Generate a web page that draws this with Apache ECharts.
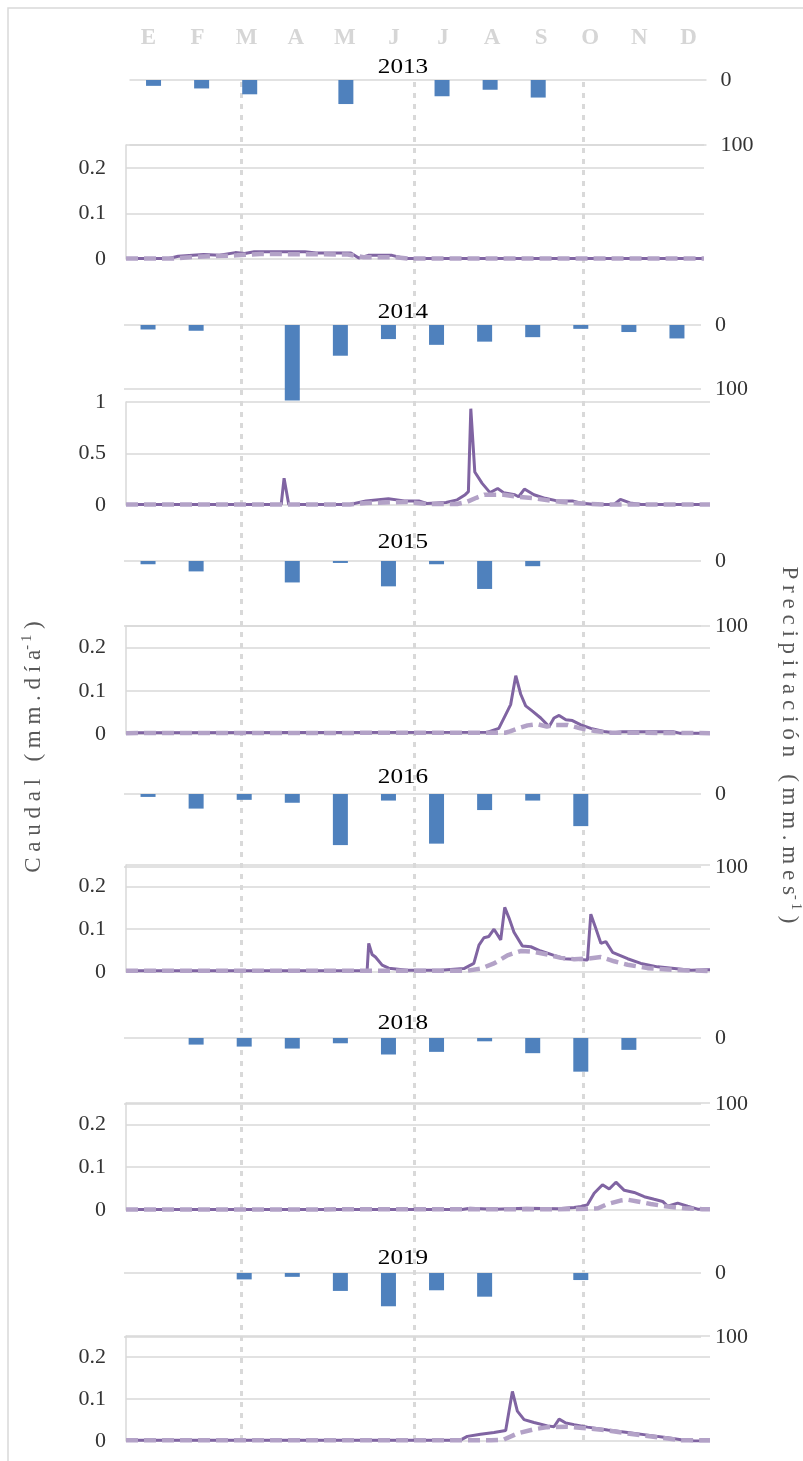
<!DOCTYPE html>
<html>
<head>
<meta charset="utf-8">
<script src="https://cdn.jsdelivr.net/npm/echarts@6/dist/echarts.min.js"></script>
<style>
  html, body { margin: 0; padding: 0; background: #fff; }
  #chart { width: 803px; height: 1461px; }
</style>
</head>
<body>
<div id="chart"></div>
<script>
// Month initials (Spanish) and the years shown, one panel per year
const monthLetters = ['E', 'F', 'M', 'A', 'M', 'J', 'J', 'A', 'S', 'O', 'N', 'D'];
const years = ['2013', '2014', '2015', '2016', '2018', '2019'];

// Monthly precipitation (mm/mes), January..December
const rain2013 = [9, 13, 22, null, 37, null, 25, 15, 27, null, null, null];
const rain2014 = [7, 9, null, 118, 48, 22, 31, 26, 19, 6, 11, 21];
const rain2015 = [5, 16, null, 33, 3, 39, 5, 43, 8, null, null, null];
const rain2016 = [4, 20, 8, 12, 70, 9, 68, 22, 9, 44, null, null];
const rain2018 = [null, 10, 13, 16, 8, 25, 21, 5, 23, 51, 18, null];
const rain2019 = [null, null, 10, 6, 28, 52, 27, 37, null, 11, null, null];

// Daily discharge (mm/día) as [day of year, value]: observed (solid) and simulated (dashed)
const obs2013 = [[0,0.001],[27,0.001],[33,0.006],[49,0.01],[59,0.008],[69,0.014],[75,0.012],[81,0.016],[113,0.016],[120,0.013],[142,0.013],[147,0.002],[153,0.008],[168,0.008],[176,0.001],[365,0.001]];
const sim2013 = [[0,0.001],[30,0.001],[45,0.005],[70,0.008],[85,0.011],[140,0.01],[150,0.004],[170,0.004],[178,0.001],[365,0.001]];

const obs2014 = [[0,0.005],[97,0.005],[98.8,0.26],[101.7,0.005],[140,0.005],[150,0.04],[164,0.06],[174,0.04],[183,0.04],[188,0.015],[200,0.025],[207,0.05],[212,0.1],[214,0.13],[215.5,0.935],[218,0.32],[222.6,0.21],[227.5,0.12],[232.3,0.16],[236,0.12],[243,0.1],[245.4,0.08],[249,0.155],[255,0.1],[262,0.065],[269.4,0.04],[279,0.04],[284,0.02],[293,0.005],[305,0.005],[309,0.055],[315,0.02],[322,0.005],[365,0.005]];
const sim2014 = [[0,0.005],[140,0.005],[150,0.02],[175,0.03],[188,0.01],[207,0.01],[213,0.03],[219,0.07],[224,0.1],[236,0.1],[245,0.08],[255,0.065],[266,0.04],[279,0.02],[290,0.01],[300,0.005],[365,0.005]];

const obs2015 = [[0,0.003],[226,0.004],[233,0.013],[237.3,0.045],[240.4,0.068],[243.6,0.135],[246.7,0.092],[249.8,0.065],[254,0.053],[259.2,0.037],[264.4,0.017],[267.5,0.037],[270.7,0.043],[274.9,0.033],[279,0.031],[284.3,0.021],[290.5,0.013],[298.8,0.006],[305,0.003],[310,0.005],[342,0.005],[346,0.002],[365,0.002]];
const sim2015 = [[0,0.002],[237,0.003],[240,0.006],[245,0.013],[251,0.02],[257,0.023],[263,0.017],[268,0.021],[276,0.021],[284,0.013],[293,0.007],[301,0.003],[365,0.002]];

const obs2016 = [[0,0.003],[150.7,0.003],[151.7,0.067],[153.8,0.041],[155.9,0.035],[160.1,0.016],[164.2,0.009],[175.7,0.004],[196.6,0.004],[211.2,0.008],[217.4,0.02],[220.6,0.063],[223.7,0.08],[226.8,0.083],[230,0.1],[234.2,0.075],[236.7,0.151],[239.4,0.126],[242.5,0.093],[247.7,0.061],[253,0.059],[259.2,0.049],[267.5,0.039],[273.8,0.031],[288.4,0.028],[290.5,0.135],[293.6,0.102],[296.8,0.067],[299.9,0.071],[304.1,0.046],[313.5,0.031],[321.8,0.02],[332.3,0.012],[342.7,0.008],[353.1,0.004],[363.6,0.005],[365,0.005]];
const sim2016 = [[0,0.003],[213.3,0.003],[221.7,0.008],[230,0.02],[238.4,0.039],[246.7,0.049],[255.1,0.047],[263.4,0.041],[271.8,0.033],[280.1,0.03],[288.4,0.031],[296.8,0.035],[305.1,0.025],[313.5,0.017],[326,0.009],[342.7,0.005],[365,0.002]];

const obs2018 = [[0,0.001],[210,0.001],[215,0.004],[230,0.002],[250,0.004],[270,0.003],[280,0.006],[284.3,0.008],[288.4,0.012],[292.6,0.039],[297.8,0.059],[302,0.049],[306.2,0.065],[311.4,0.046],[317.6,0.041],[323.9,0.031],[330.1,0.025],[335.4,0.02],[338.5,0.009],[344.8,0.016],[351,0.009],[357.3,0.002],[365,0.002]];
const sim2018 = [[0,0.001],[270,0.002],[288,0.003],[295,0.004],[301,0.014],[309,0.022],[313.5,0.024],[319.7,0.02],[328,0.014],[338.5,0.008],[349,0.004],[360,0.002],[365,0.002]];

const obs2019 = [[0,0.002],[209,0.002],[213.3,0.011],[221.6,0.016],[230,0.02],[237.3,0.025],[241.5,0.118],[244.6,0.071],[248.8,0.051],[255,0.044],[263.4,0.036],[267.5,0.034],[270.7,0.052],[274.9,0.043],[280.1,0.039],[288.4,0.033],[301,0.026],[313.5,0.02],[326,0.014],[338.5,0.008],[346.9,0.003],[355,0],[365,0]];
const sim2019 = [[0,0.002],[228,0.002],[236,0.003],[244.6,0.018],[255,0.028],[263.4,0.033],[276,0.034],[288.4,0.03],[301,0.025],[313.5,0.018],[326,0.012],[338.5,0.006],[347,0.002],[365,0.002]];

// Discharge axis range per panel
const flowMax = [0.25, 1, 0.25, 0.25, 0.25, 0.25];
const flowStep = [0.1, 0.5, 0.1, 0.1, 0.1, 0.1];
const rainAxisTicks = [0, 100];

// Days of year where the light dashed guides cross all panels
const guideDays = [72, 180, 286];

const rainByYear = [rain2013, rain2014, rain2015, rain2016, rain2018, rain2019];
const obsByYear = [obs2013, obs2014, obs2015, obs2016, obs2018, obs2019];
const simByYear = [sim2013, sim2014, sim2015, sim2016, sim2018, sim2019];

// Page layout of each panel (pixels)
const W = 803, H = 1461;
const layout = [
  { titleY: 67,   barTop: 80,   barH: 65, barLeft: 129.5, barRight: 96.5, lineTop: 145,  lineBottom: 259,  lineRight: 99 },
  { titleY: 312,  barTop: 325,  barH: 64, barLeft: 124,   barRight: 102,  lineTop: 402,  lineBottom: 505,  lineRight: 93 },
  { titleY: 542,  barTop: 561,  barH: 65, barLeft: 124,   barRight: 102,  lineTop: 626,  lineBottom: 734,  lineRight: 93 },
  { titleY: 777,  barTop: 794,  barH: 73, barLeft: 124,   barRight: 102,  lineTop: 865,  lineBottom: 972,  lineRight: 93 },
  { titleY: 1023, barTop: 1038, barH: 66, barLeft: 124,   barRight: 102,  lineTop: 1103, lineBottom: 1210, lineRight: 93 },
  { titleY: 1258, barTop: 1273, barH: 64, barLeft: 124,   barRight: 102,  lineTop: 1336, lineBottom: 1441, lineRight: 93 }
];

const FONT = '"Liberation Serif", "Times New Roman", serif';
const GRID_COLOR = '#d9d9d9';
const LABEL_COLOR = '#333333';
const TITLE_COLOR = '#595959';

const grid = [
  { left: 124, width: 589, top: 52, height: 1 },           // month initials
  { left: 126, right: 93, top: 80, bottom: H - 1440 }       // full-height guides
];
const xAxis = [
  { gridIndex: 0, type: 'category', position: 'top', data: monthLetters,
    axisLine: { show: false }, axisTick: { show: false }, splitLine: { show: false },
    axisLabel: { margin: 2, fontFamily: FONT, fontSize: 23, fontWeight: 'bold', color: '#d6d6d6' } },
  { gridIndex: 1, type: 'value', min: 0, max: 365, show: false }
];
const yAxis = [
  { gridIndex: 0, type: 'value', show: false },
  { gridIndex: 1, type: 'value', min: 0, max: 1, show: false }
];
const series = [
  { type: 'line', xAxisIndex: 1, yAxisIndex: 1, data: [], silent: true, z: 1,
    markLine: {
      silent: true, z: 1, symbol: ['none', 'none'], label: { show: false },
      lineStyle: { color: GRID_COLOR, width: 3, type: [5, 6] },
      data: guideDays.map(d => ({ xAxis: d }))
    } }
];

const axisTitleRich = {
  t: { fontFamily: FONT, fontSize: 23, lineHeight: 28, fill: TITLE_COLOR },
  s: { fontFamily: FONT, fontSize: 14, lineHeight: 28, verticalAlign: 'top', fill: TITLE_COLOR }
};
const graphic = [
  { type: 'rect', shape: { x: 8, y: 8, width: 820, height: 1480 }, z: -10,
    style: { fill: 'none', stroke: GRID_COLOR, lineWidth: 1.5 } },
  { type: 'text', x: 34, y: 747, rotation: Math.PI / 2,
    style: { text: '{t|C a u d a l   ( m m . d í a}{s|- 1}{t| )}',
      align: 'center', verticalAlign: 'middle', rich: axisTitleRich } },
  { type: 'text', x: 789, y: 745, rotation: -Math.PI / 2,
    style: { text: '{t|P r e c i p i t a c i ó n   ( m m . m e s}{s|- 1}{t| )}',
      align: 'center', verticalAlign: 'middle', rich: axisTitleRich } }
];

years.forEach((year, i) => {
  const L = layout[i];
  const gBar = grid.length, gLine = grid.length + 1;
  grid.push({ left: L.barLeft, right: L.barRight, top: L.barTop, height: L.barH });
  grid.push({ left: 126, right: L.lineRight, top: L.lineTop, height: L.lineBottom - L.lineTop });

  const xb = xAxis.length;
  xAxis.push({ gridIndex: gBar, type: 'category', data: monthLetters, show: false });
  xAxis.push({ gridIndex: gLine, type: 'value', min: 0, max: 365,
    axisLine: { show: false }, axisTick: { show: false }, axisLabel: { show: false }, splitLine: { show: false } });

  const yb = yAxis.length;
  yAxis.push({ gridIndex: gBar, type: 'value', inverse: true, position: 'right',
    min: rainAxisTicks[0], max: rainAxisTicks[1], interval: rainAxisTicks[1] - rainAxisTicks[0],
    axisLine: { show: false }, axisTick: { show: false },
    axisLabel: { margin: 14, fontFamily: FONT, fontSize: 22, color: LABEL_COLOR, padding: [6, 0, 0, 0] },
    splitLine: { lineStyle: { color: GRID_COLOR, width: 1.5 } } });
  yAxis.push({ gridIndex: gLine, type: 'value', min: 0, max: flowMax[i], interval: flowStep[i],
    axisLine: { show: true, lineStyle: { color: GRID_COLOR, width: 1.5 } },
    axisTick: { show: false },
    axisLabel: { margin: 20, fontFamily: FONT, fontSize: 22, color: LABEL_COLOR,
      showMaxLabel: flowMax[i] === 1, formatter: v => String(+v.toFixed(2)) },
    splitLine: { lineStyle: { color: GRID_COLOR, width: 1.5 } } });

  series.push({ type: 'bar', name: 'P ' + year, xAxisIndex: xb, yAxisIndex: yb,
    data: rainByYear[i], barWidth: 15, clip: false, silent: true, z: 3,
    itemStyle: { color: '#4f81bd' } });
  series.push({ type: 'line', name: 'Qobs ' + year, xAxisIndex: xb + 1, yAxisIndex: yb + 1,
    data: obsByYear[i], symbol: 'none', silent: true, z: 4,
    lineStyle: { color: '#8064a2', width: 3 } });
  series.push({ type: 'line', name: 'Qsim ' + year, xAxisIndex: xb + 1, yAxisIndex: yb + 1,
    data: simByYear[i], symbol: 'none', silent: true, z: 5,
    lineStyle: { color: '#b3a2c7', width: 4.5, type: [12, 6] } });

  graphic.push({ type: 'text', x: 403, y: L.titleY, scaleX: 1.2,
    style: { text: year, font: '21px ' + FONT, fill: '#000', align: 'center', verticalAlign: 'middle' } });
});

const chart = echarts.init(document.getElementById('chart'), null, { renderer: 'canvas' });
chart.setOption({ animation: false, backgroundColor: '#fff', grid, xAxis, yAxis, series, graphic });
</script>
</body>
</html>
